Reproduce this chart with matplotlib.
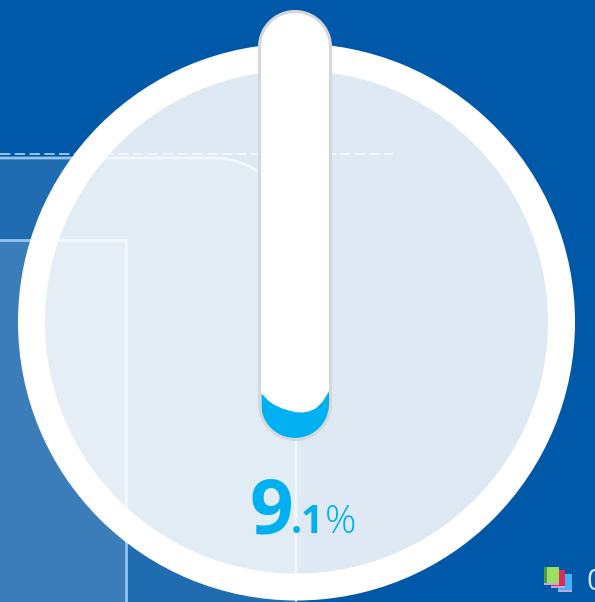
import matplotlib
matplotlib.use("Agg")
import matplotlib.pyplot as plt
import numpy as np
from matplotlib.patches import Circle, PathPatch, Rectangle, Wedge
from matplotlib.path import Path

W, H = 595, 602

# gauge data
value_label = ["9", ".1", "%"]
surface_x = [0.0, 0.1, 0.2, 0.3, 0.4, 0.5, 0.6, 0.7, 0.8, 0.9, 1.0]
surface_pct = [10.6, 8.9, 7.8, 7.1, 6.6, 6.2, 6.1, 6.4, 7.1, 8.7, 11.3]
legend_colors = ["#3fb4f8", "#e0295f", "#9adf62"]

BG = "#0059a8"
AREA_1 = "#1f6cb0"
AREA_2 = "#3a7db8"
LINE = "#96c4ef"
CYAN = "#00b0f0"
BORDER = "#d5d7da"


def capsule_path(x0, x1, y0, y1):
    r = (x1 - x0) / 2
    t = np.linspace(np.pi, 2 * np.pi, 40)
    top = np.column_stack([x0 + r + r * np.cos(t), y0 + r + r * np.sin(t)])
    bot = np.column_stack([x0 + r + r * np.cos(t - np.pi), y1 - r + r * np.sin(t - np.pi)])
    pts = np.vstack([top, bot, top[:1]])
    return Path(pts, closed=True)


def rounded_area_path(top, right, r, bottom):
    verts = [(-5, bottom), (-5, top), (right - r, top),
             (right - r * 0.45, top), (right, top + r * 0.45), (right, top + r),
             (right, bottom)]
    codes = [Path.MOVETO, Path.LINETO, Path.LINETO,
             Path.CURVE4, Path.CURVE4, Path.CURVE4, Path.LINETO]
    return Path(verts, codes)


fig = plt.figure(figsize=(W / 100, H / 100), dpi=100, facecolor=BG)
ax = fig.add_axes([0, 0, 1, 1])
ax.set_xlim(0, W)
ax.set_ylim(H, 0)
ax.axis("off")

# background areas behind the circle
ax.add_patch(PathPatch(rounded_area_path(158, 296, 83, H + 5), facecolor=AREA_1, edgecolor=LINE, lw=2, zorder=1))
ax.add_patch(Rectangle((-5, 240), 131, H, facecolor=AREA_2, edgecolor=LINE, lw=2, zorder=2))
ax.plot([0, 393], [154, 154], color=LINE, lw=1.4, dashes=(5.3, 2.3), zorder=3)

# circle, the translucent disc runs a little under the ring to hide the seam
cx, cy = 296.5, 322
ax.add_patch(Circle((cx, cy), 253, facecolor="white", alpha=0.875, lw=0, zorder=4))
ax.add_patch(Wedge((cx, cy), 278.5, 0, 360, width=27, facecolor="white", lw=0, zorder=5))

# tube
ax.add_patch(PathPatch(capsule_path(259.5, 330.5, 11.5, 439.5), facecolor="white", edgecolor=BORDER, lw=2.2, zorder=6))

# liquid, on axes of its own running 0-100 along the inside of the tube
inner = capsule_path(261, 329, 13, 438)
ax_fill = fig.add_axes([261 / W, 1 - 438 / H, 68 / W, 425 / H], zorder=2)
ax_fill.set_xlim(0, 1)
ax_fill.set_ylim(0, 100)
ax_fill.axis("off")
liquid = ax_fill.fill_between(surface_x, 0, surface_pct, color=CYAN, lw=0)
liquid.set_clip_path(inner, ax.transData)

# value text
tx = dict(color=CYAN, family="Open Sans", va="baseline", ha="left", zorder=8)
ax.text(250, 533, value_label[0], fontsize=55, fontweight="bold", **tx)
ax.text(291, 533, value_label[1], fontsize=28, fontweight="bold", **tx)
ax.text(325, 533, value_label[2], fontsize=28, fontweight="light", **tx)

# cut-off legend at the corner
for (x, y, w, h), col in zip([(558, 574, 14, 18), (551, 570, 14, 18), (544, 567, 15, 18)], legend_colors):
    ax.add_patch(Rectangle((x, y), w, h, facecolor=col, lw=0, zorder=6))
    ax.add_patch(Rectangle((x, y + h - 2), w, 2, facecolor="#c9a6dc", lw=0, zorder=7))
ax.add_patch(Rectangle((544, 567), 2.5, 16, facecolor="#4f9a3c", lw=0, zorder=7))
ax.text(586, 590, "0", color="#d6e6f5", fontsize=21, family="Open Sans", va="baseline", ha="left", zorder=8)

fig.savefig("out.png", dpi=100, facecolor=BG)
plt.close(fig)
